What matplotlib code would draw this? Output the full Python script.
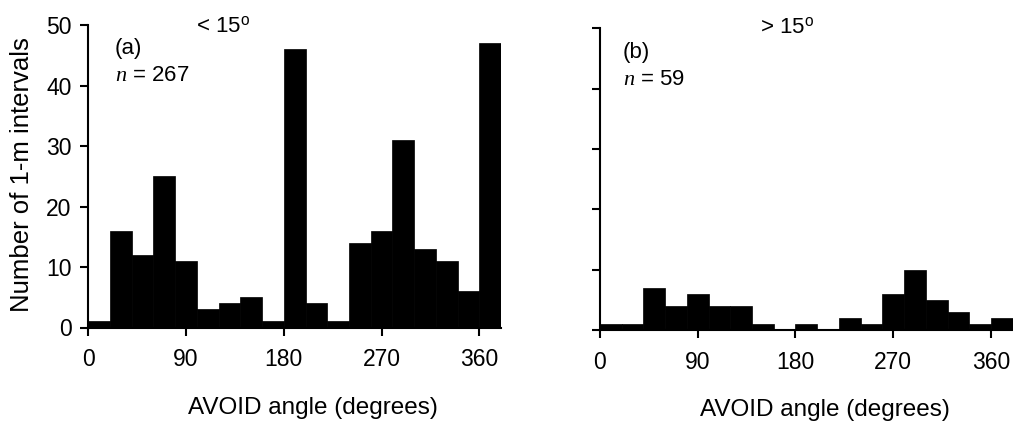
import numpy as np
import matplotlib
matplotlib.use("Agg")
import matplotlib.pyplot as plt

plt.rcParams['font.family'] = ['Liberation Sans', 'DejaVu Sans']
plt.rcParams['mathtext.fontset'] = 'custom'
plt.rcParams['mathtext.rm'] = 'Liberation Sans'
plt.rcParams['mathtext.it'] = 'Liberation Serif:italic'

# Data: 20-degree bins of AVOID angle
bin_edges = np.arange(0, 381, 20)
counts_lt15 = [1, 16, 12, 25, 11, 3, 4, 5, 1, 46, 4, 1, 14, 16, 31, 13, 11, 6, 47]
counts_gt15 = [1, 1, 7, 4, 6, 4, 4, 1, 0, 1, 0, 2, 1, 6, 10, 5, 3, 1, 2]
xticks = [0, 90, 180, 270, 360]
yticks = [0, 10, 20, 30, 40, 50]
titles = [r'< 15$^{\mathrm{o}}$', r'> 15$^{\mathrm{o}}$']
panel_labels = ['(a)', '(b)']
n_labels = ['$n$ = 267', '$n$ = 59']
xlabel = 'AVOID angle (degrees)'
ylabel = 'Number of 1-m intervals'

W, H = 1013, 423
fig = plt.figure(figsize=(W / 100, H / 100), dpi=100)

def frac(x0, y0, x1, y1):
    return [x0 / W, 1 - y1 / H, (x1 - x0) / W, (y1 - y0) / H]

ax_a = fig.add_axes(frac(88.3, 25, 88.3 + 380 * 1.086, 327.5))
ax_b = fig.add_axes(frac(600, 28.3, 600 + 380 * 1.086, 330))

lw = 1.5
for ax, counts in [(ax_a, counts_lt15), (ax_b, counts_gt15)]:
    ax.bar(bin_edges[:-1], counts, width=np.diff(bin_edges), align='edge',
           color='black', edgecolor='black', linewidth=0.5)
    ax.set_xlim(0, 380)
    ax.set_ylim(0, 50)
    ax.set_xticks(xticks)
    ax.set_yticks(yticks)
    for s in ['top', 'right']:
        ax.spines[s].set_visible(False)
    for s in ['left', 'bottom']:
        ax.spines[s].set_linewidth(lw)
    ax.tick_params(direction='out', length=6, width=lw, labelsize=16.5)
    ax.tick_params(axis='x', pad=9)
    ax.tick_params(axis='y', pad=6)

ax_b.tick_params(axis='y', labelleft=False)

# Y label
fig.text(22 / W, 1 - 175 / H, ylabel, fontsize=18.5, rotation=90,
         ha='center', va='center')

# X labels
fig.text(188 / W, 1 - 414 / H, xlabel, fontsize=17.5, ha='left', va='baseline')
fig.text(700 / W, 1 - 416 / H, xlabel, fontsize=17.5, ha='left', va='baseline')

# Titles
fig.text(196 / W, 1 - 32 / H, titles[0], fontsize=16, ha='left', va='baseline')
fig.text(760 / W, 1 - 33 / H, titles[1], fontsize=16, ha='left', va='baseline')

# Panel annotations
for x, lab, nl, yb, yn in [(115, panel_labels[0], n_labels[0], 54, 81),
                           (623, panel_labels[1], n_labels[1], 58, 85)]:
    fig.text(x / W, 1 - yb / H, lab, fontsize=16, ha='left', va='baseline')
    fig.text(x / W, 1 - yn / H, nl, fontsize=16, ha='left', va='baseline')

fig.savefig('out.png', dpi=100)
